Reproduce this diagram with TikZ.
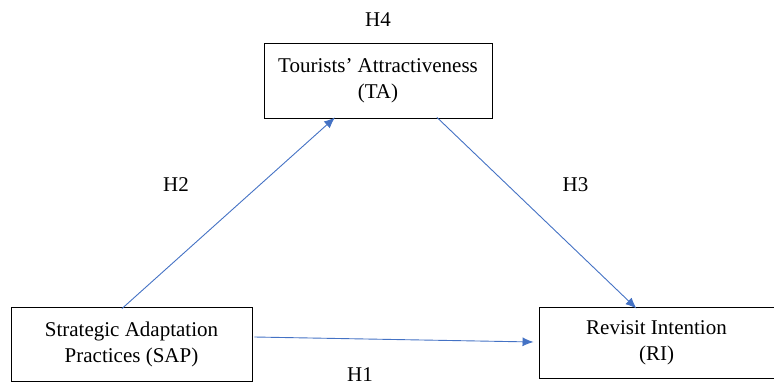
\documentclass[tikz,border=0pt]{standalone}
\usepackage{fontspec}
\setmainfont{Liberation Serif}
\usetikzlibrary{arrows.meta}
\definecolor{pfeilblau}{HTML}{4472C4}
\tikzset{
	kasten/.style={draw=black,line width=0.9pt,align=center,inner sep=0pt,font=\fontsize{21}{26}\selectfont},
	pfeil/.style={draw=pfeilblau,line width=0.9pt,-{Latex[length=11pt,width=9pt]}},
	hyp/.style={font=\fontsize{21}{24}\selectfont,inner sep=0pt}
}
\begin{document}
\begin{tikzpicture}[x=1pt,y=-1pt]
				\useasboundingbox (0,0) rectangle (774,388);
				% Kaesten
				\node[kasten,minimum width=228,minimum height=75] (ta) at (378,80.5) {Tourists' Attractiveness\\(TA)};
				\node[kasten,minimum width=241,minimum height=74] (sap) at (131.5,344) {Strategic Adaptation\\Practices (SAP)};
				\node[kasten,minimum width=235,minimum height=71] (ri) at (656.5,342.5) {Revisit Intention\\(RI)};
				% Pfeile
				\draw[pfeil] ([xshift=-9.5pt,yshift=-2pt]sap.north) -- ([xshift=-43pt,yshift=1pt]ta.south);
				\draw[pfeil] ([xshift=59pt,yshift=1pt]ta.south) -- ([xshift=-20pt,yshift=-2pt]ri.north);
				\draw[pfeil] ([xshift=2pt,yshift=7pt]sap.east) -- ([xshift=-5pt,yshift=0.5pt]ri.west);
				% Hypothesen
				\node[hyp] (h4) at (378,20) {H4};
				\node[hyp] (h2) at (176,185) {H2};
				\node[hyp] (h3) at (575.5,185) {H3};
				\node[hyp] (h1) at (360,375) {H1};
\end{tikzpicture}
\end{document}
